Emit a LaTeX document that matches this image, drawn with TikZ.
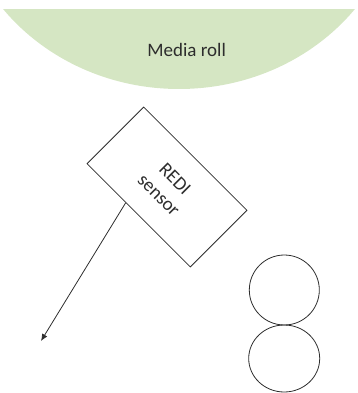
\documentclass[tikz,border=0pt]{standalone}
\usepackage{fontspec}
\setmainfont{Carlito}
\usetikzlibrary{arrows.meta,calc,shapes.geometric}
\definecolor{rollgreen}{RGB}{213,230,195}
\definecolor{inkgray}{RGB}{45,45,45}
\tikzset{
  outline/.style={draw=inkgray, line width=0.8pt},
  label19/.style={font=\fontsize{19}{23}\selectfont, text=inkgray},
  sensorbox/.style={outline, fill=white, rotate=-45, minimum width=146pt, minimum height=80pt, inner sep=0pt, align=center, label19},
  roller/.style={outline, circle, inner sep=0pt},
  pointer/.style={draw=inkgray, line width=0.8pt, -{Latex[length=7pt,width=6pt]}}
}
\begin{document}
\begin{tikzpicture}[x=1pt,y=-1pt]
\useasboundingbox (0,0) rectangle (357,393);
% media roll (clipped ellipse)
\begin{scope}
  \clip (0,10) rectangle (357,393);
  \fill[rollgreen] (179,-116) ellipse [x radius=222pt, y radius=205pt];
\end{scope}
\node[label19, inner sep=0pt] (media) at (186.7,50.3) {Media roll};
% REDI sensor
\node[sensorbox] (sensor) at (167,187) {REDI\\sensor};
% rollers
\node[roller, minimum size=70pt] (rollA) at (284.3,290) {};
\node[outline, ellipse, inner sep=0pt, minimum width=71pt, minimum height=67pt] (rollB) at (284.2,358.5) {};
% arrow
\coordinate (start) at ($(sensor.south west)!0.377!(sensor.south east)$);
\coordinate (tip) at (41,341);
\draw[pointer] (start) -- (tip);
\end{tikzpicture}
\end{document}
